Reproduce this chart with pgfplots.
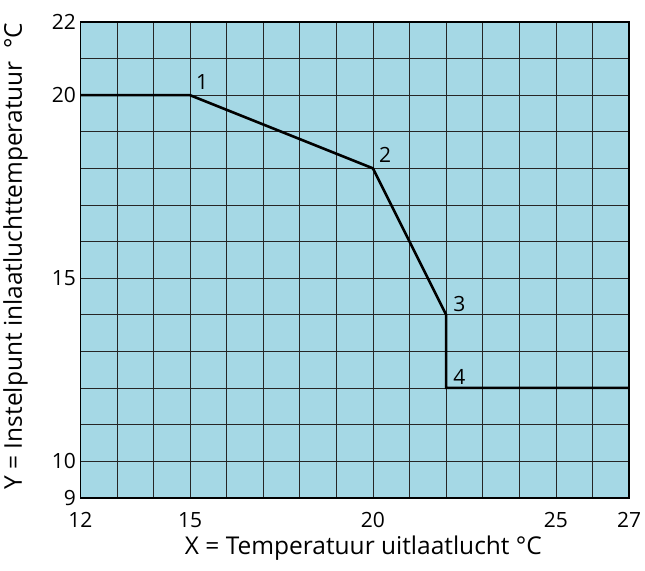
\documentclass[border=0pt]{standalone}
\usepackage{fontspec}
\setmainfont{Open Sans}
\usepackage{pgfplots}
\pgfplotsset{compat=1.18}
\definecolor{bg}{HTML}{A5D8E5}
\begin{document}
\begin{tikzpicture}
\begin{axis}[
 scale only axis, width=549pt, height=476pt,
 xmin=12,xmax=27,ymin=9,ymax=22,
 xtick={12,15,20,25,27}, ytick={9,10,15,20,22},
 minor xtick={12,...,27}, minor ytick={9,...,22},
 grid=both,
 minor grid style={black!85, line width=0.7pt},
 major grid style={black!85, line width=0.7pt},
 tick style={draw=none},
 axis background/.style={fill=bg},
 axis line style={line width=1.6pt},
 /pgf/number format/assume math mode=true,
 tick label style={font=\fontsize{21}{25}\selectfont},
 xticklabel style={yshift=-11pt},
 yticklabel style={xshift=-1pt},
 xlabel={X = Temperatuur uitlaatlucht °C},
 ylabel={Y = Instelpunt inlaatluchttemperatuur\ \ °C},
 label style={font=\fontsize{24.5}{28}\selectfont},
 xlabel style={at={(axis description cs:0.516,-0.107)},anchor=center},
 ylabel style={at={(axis description cs:-0.118,0.508)},anchor=center},
]
\addplot[black, line width=2.6pt, line join=miter] coordinates {
 (12,20) (15,20) (20,18) (22,14) (22,12) (27,12)};
\node[font=\fontsize{21}{25}\selectfont] at (axis cs:15.33,20.35) {1};
\node[font=\fontsize{21}{25}\selectfont] at (axis cs:20.33,18.37) {2};
\node[font=\fontsize{21}{25}\selectfont] at (axis cs:22.36,14.3) {3};
\node[font=\fontsize{21}{25}\selectfont] at (axis cs:22.36,12.3) {4};
\end{axis}
\path ([xshift=-80pt,yshift=-73pt]current axis.south west) rectangle ([xshift=16pt,yshift=22pt]current axis.north east);
\end{tikzpicture}
\end{document}
